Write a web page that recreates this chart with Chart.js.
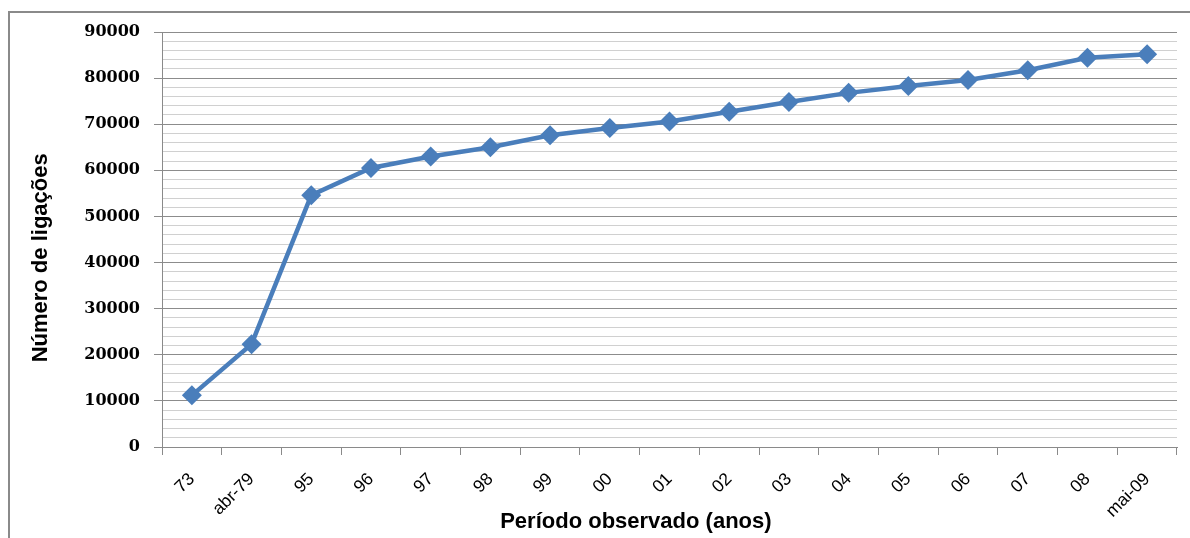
<!DOCTYPE html>
<html>
<head>
<meta charset="utf-8">
<script src="https://cdn.jsdelivr.net/npm/chart.js@4"></script>
<style>
  body { margin: 0; background: #fff; }
  #wrap { position: relative; width: 1190px; height: 538px; overflow: hidden; }
  #frame { position: absolute; left: 8px; top: 11px; width: 1300px; height: 700px; border: 2px solid #8a8a8a; box-sizing: border-box; }
  #grafico { position: absolute; left: 0; top: 0; }
</style>
</head>
<body>
<div id="wrap">
  <div id="frame"></div>
  <canvas id="grafico" width="1190" height="538"></canvas>
</div>
<script>
// períodos observados e número de ligações
const periodos = ['73', 'abr-79', '95', '96', '97', '98', '99', '00', '01', '02', '03', '04', '05', '06', '07', '08', 'mai-09'];
const ligacoes = [11200, 22300, 54600, 60500, 63000, 65000, 67600, 69200, 70600, 72700, 74800, 76800, 78300, 79600, 81700, 84400, 85200];

const yMin = 0;
const yMax = 90000;
const yMajor = 10000;
const yMinor = 2000;

// espaços no fim empurram o título (como no Excel, não centrado na área do gráfico)
const tituloX = 'Período observado (anos)' + ' '.repeat(11);
const tituloY = 'Número de ligações' + ' '.repeat(6);

const ctx = document.getElementById('grafico').getContext('2d');

new Chart(ctx, {
    type: 'line',
    data: {
        labels: periodos,
        datasets: [{
            data: ligacoes,
            borderColor: '#4a7ebb',
            backgroundColor: '#4a7ebb',
            borderWidth: 4.5,
            tension: 0,
            pointStyle: 'rectRot',
            pointRadius: 10,
            pointHoverRadius: 10,
            pointBorderWidth: 0
        }]
    },
    options: {
        responsive: false,
        animation: false,
        events: [],
        layout: { padding: { left: 0, top: 32, right: 13, bottom: 0 } },
        plugins: { legend: { display: false }, tooltip: { enabled: false } },
        scales: {
            x: {
                offset: true,
                grid: {
                    offset: true,
                    drawOnChartArea: false,
                    drawTicks: true,
                    tickLength: 8,
                    color: '#8a8a8a'
                },
                border: { color: '#8a8a8a', width: 1 },
                ticks: {
                    autoSkip: false,
                    minRotation: 45,
                    maxRotation: 45,
                    color: '#000',
                    padding: 14,
                    font: { family: 'Liberation Sans', size: 17.5 }
                },
                title: {
                    display: true,
                    text: tituloX,
                    color: '#000',
                    padding: { top: 0, bottom: 3 },
                    font: { family: 'Liberation Sans', size: 22, weight: 'bold' }
                },
                afterFit: (scale) => { scale.height = 91; }
            },
            y: {
                min: yMin,
                max: yMax,
                ticks: {
                    stepSize: yMinor,
                    maxTicksLimit: 100,
                    autoSkip: false,
                    color: '#000',
                    padding: 14,
                    font: { family: 'DejaVu Serif', size: 16, weight: 'bold' },
                    callback: (v) => (v % yMajor === 0 ? String(v) : '')
                },
                grid: {
                    tickLength: 8,
                    color: (c) => (c.tick && c.tick.value % yMajor === 0 ? '#8c8c8c' : '#d0d0d0'),
                    tickColor: (c) => (c.tick && c.tick.value % yMajor === 0 ? '#8c8c8c' : 'rgba(0,0,0,0)')
                },
                border: { color: '#8a8a8a', width: 1 },
                title: {
                    display: true,
                    text: tituloY,
                    color: '#000',
                    padding: { top: 28, bottom: 0 },
                    font: { family: 'Liberation Sans', size: 22, weight: 'bold' }
                },
                afterFit: (scale) => { scale.width = 162; }
            }
        }
    }
});
</script>
</body>
</html>
